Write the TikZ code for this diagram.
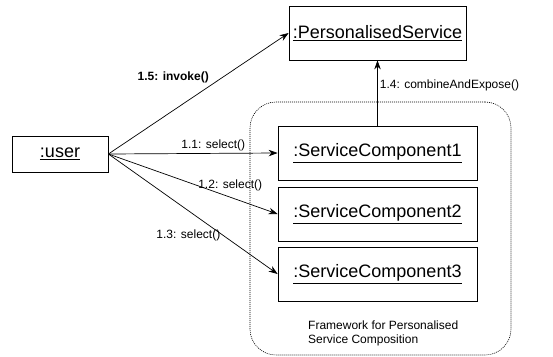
\documentclass[tikz,border=0pt]{standalone}
\usepackage{fontspec}
\setmainfont{Liberation Sans}
\usetikzlibrary{arrows.meta, positioning, calc}

\tikzset{
  objbox/.style={draw, line width=0.8pt, minimum height=54pt, inner sep=0pt,
    font=\fontsize{18}{20}\selectfont},
  msg/.style={font=\fontsize{12}{14}\selectfont, inner sep=2pt},
  framebox/.style={draw, line width=0.6pt, dash pattern=on 1pt off 1pt,
    rounded corners=26pt, minimum width=261pt, minimum height=253pt}
}

\begin{document}
\begin{tikzpicture}[x=1pt, y=-1pt, >={Stealth[length=9pt, width=6.5pt]}]
    \useasboundingbox (0, 0) rectangle (553, 356);

    % framework container
    \node[framebox] (frame) at (380.5, 228.5) {};
    \node[msg, align=left, anchor=west] (framelabel) at (306, 333)
      {Framework for Personalised\\Service Composition};

    \node[objbox, minimum width=177pt] (ps) at (377.5, 33) {\underline{:PersonalisedService}};
    \node[objbox, minimum width=96pt, minimum height=36pt] (user) at (60, 154) {\underline{:user}};
    \node[objbox, minimum width=199pt] (sc1) at (377.5, 153) {\underline{:ServiceComponent1}};
    \node[objbox, minimum width=199pt] (sc2) at (377.5, 214) {\underline{:ServiceComponent2}};
    \node[objbox, minimum width=199pt] (sc3) at (377.5, 274) {\underline{:ServiceComponent3}};

    \draw[->, line width=0.7pt] (user.east) -- (ps.west)
      node[msg, pos=0.57, anchor=south east, font=\fontsize{12}{14}\selectfont\bfseries] (l15) {1.5: invoke()};
    \draw[->, line width=0.7pt] (user.east) -- (sc1.west)
      node[msg, pos=0.62, above] (l11) {1.1: select()};
    \draw[->, line width=0.7pt] (user.east) -- (sc2.west)
      node[msg, pos=0.72, above=4pt] (l12) {1.2: select()};
    \draw[->, line width=0.7pt] (user.east) -- (sc3.west)
      node[msg, pos=0.675, left] (l13) {1.3: select()};
    \draw[->, line width=0.7pt] (sc1.north) -- (ps.south)
      node[msg, pos=0.62, right] (l14) {1.4: combineAndExpose()};
\end{tikzpicture}
\end{document}
